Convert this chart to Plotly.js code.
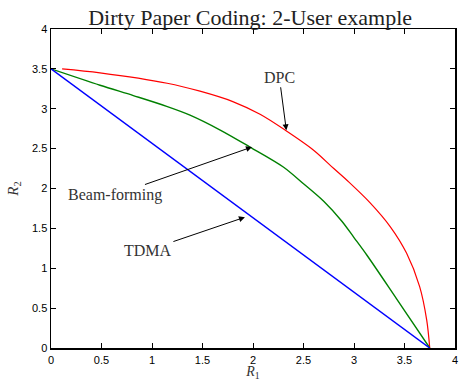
<!DOCTYPE html>
<html>
<head>
<meta charset="utf-8">
<script src="https://cdn.plot.ly/plotly-3.0.1.min.js"></script>
<style>html,body{margin:0;padding:0;background:#fff;}#chart{width:459px;height:381px;}</style>
</head>
<body>
<div id="chart"></div>
<script>
// DPC capacity region boundary
const dpcR1 = [0.11, 0.485, 1.15, 1.475, 1.80, 2.07, 2.32, 2.60, 2.80, 2.95, 3.16, 3.36, 3.52, 3.65, 3.72, 3.75];
const dpcR2 = [3.50, 3.45, 3.32, 3.22, 3.09, 2.93, 2.73, 2.48, 2.25, 2.08, 1.82, 1.52, 1.19, 0.77, 0.35, 0.0];
// Beam-forming region boundary
const bfR1 = [0, 0.485, 0.815, 1.145, 1.376, 1.68, 1.97, 2.30, 2.50, 2.70, 2.88, 3.00, 3.13, 3.42, 3.75];
const bfR2 = [3.50, 3.295, 3.165, 3.03, 2.92, 2.73, 2.52, 2.27, 2.06, 1.84, 1.59, 1.385, 1.16, 0.62, 0.0];
// TDMA line
const tdmaR1 = [0, 3.75];
const tdmaR2 = [3.5, 0];
// Tick labels
const tickVals = [0, 0.5, 1, 1.5, 2, 2.5, 3, 3.5, 4];
const tickText = ["0", "0.5", "1", "1.5", "2", "2.5", "3", "3.5", "4"];
// Annotation labels and arrow targets
const labels = ["DPC", "Beam-forming", "TDMA"];
const arrowX = [2.33, 1.99, 1.92];
const arrowY = [2.73, 2.52, 1.64];

const traces = [
  {x: dpcR1, y: dpcR2, mode: 'lines', line: {color: '#ff0000', width: 1.2, shape: 'spline', smoothing: 0.9}},
  {x: bfR1, y: bfR2, mode: 'lines', line: {color: '#008000', width: 1.4, shape: 'spline', smoothing: 0.9}},
  {x: tdmaR1, y: tdmaR2, mode: 'lines', line: {color: '#0000ff', width: 1.5}}
];

const offsets = [[-7, -53], [-137, 48], [-97, 33]];
const annotations = labels.map((t, i) => ({
  x: arrowX[i], y: arrowY[i], xref: 'x', yref: 'y', text: t,
  showarrow: true, arrowhead: 2, arrowsize: 1.2, arrowwidth: 1, arrowcolor: '#000',
  ax: offsets[i][0], ay: offsets[i][1],
  font: {family: 'Liberation Serif, serif', size: 16, color: '#333'}
}));

const axisCommon = {
  tickvals: tickVals, ticktext: tickText, ticks: 'inside', ticklen: 5, tickcolor: '#000', tickwidth: 1,
  showline: true, linecolor: '#000', linewidth: 1.5, mirror: 'ticks', showgrid: false, zeroline: false,
  tickfont: {family: 'Liberation Sans, Arial, sans-serif', size: 11, color: '#000'}
};

const layout = {
  width: 459, height: 381,
  margin: {l: 51, r: 4, t: 29, b: 33},
  paper_bgcolor: '#fff', plot_bgcolor: '#fff',
  showlegend: false,
  title: {text: 'Dirty Paper Coding: 2-User example', x: 0.545, xanchor: 'center', y: 0.955, yanchor: 'middle',
          font: {family: 'Liberation Serif, serif', size: 22, color: '#222'}},
  xaxis: Object.assign({}, axisCommon, {range: [0, 4], ticklabelstandoff: 1,
    title: {text: '<i>R</i><sub>1</sub>', font: {family: 'Liberation Serif, serif', size: 14, color: '#333'}}}),
  yaxis: Object.assign({}, axisCommon, {range: [0, 4],
    title: {text: '<i>R</i><sub>2</sub>', standoff: 10, font: {family: 'Liberation Serif, serif', size: 15, color: '#333'}}}),
  annotations: annotations
};

Plotly.newPlot('chart', traces, layout, {displayModeBar: false, staticPlot: true});
</script>
</body>
</html>
